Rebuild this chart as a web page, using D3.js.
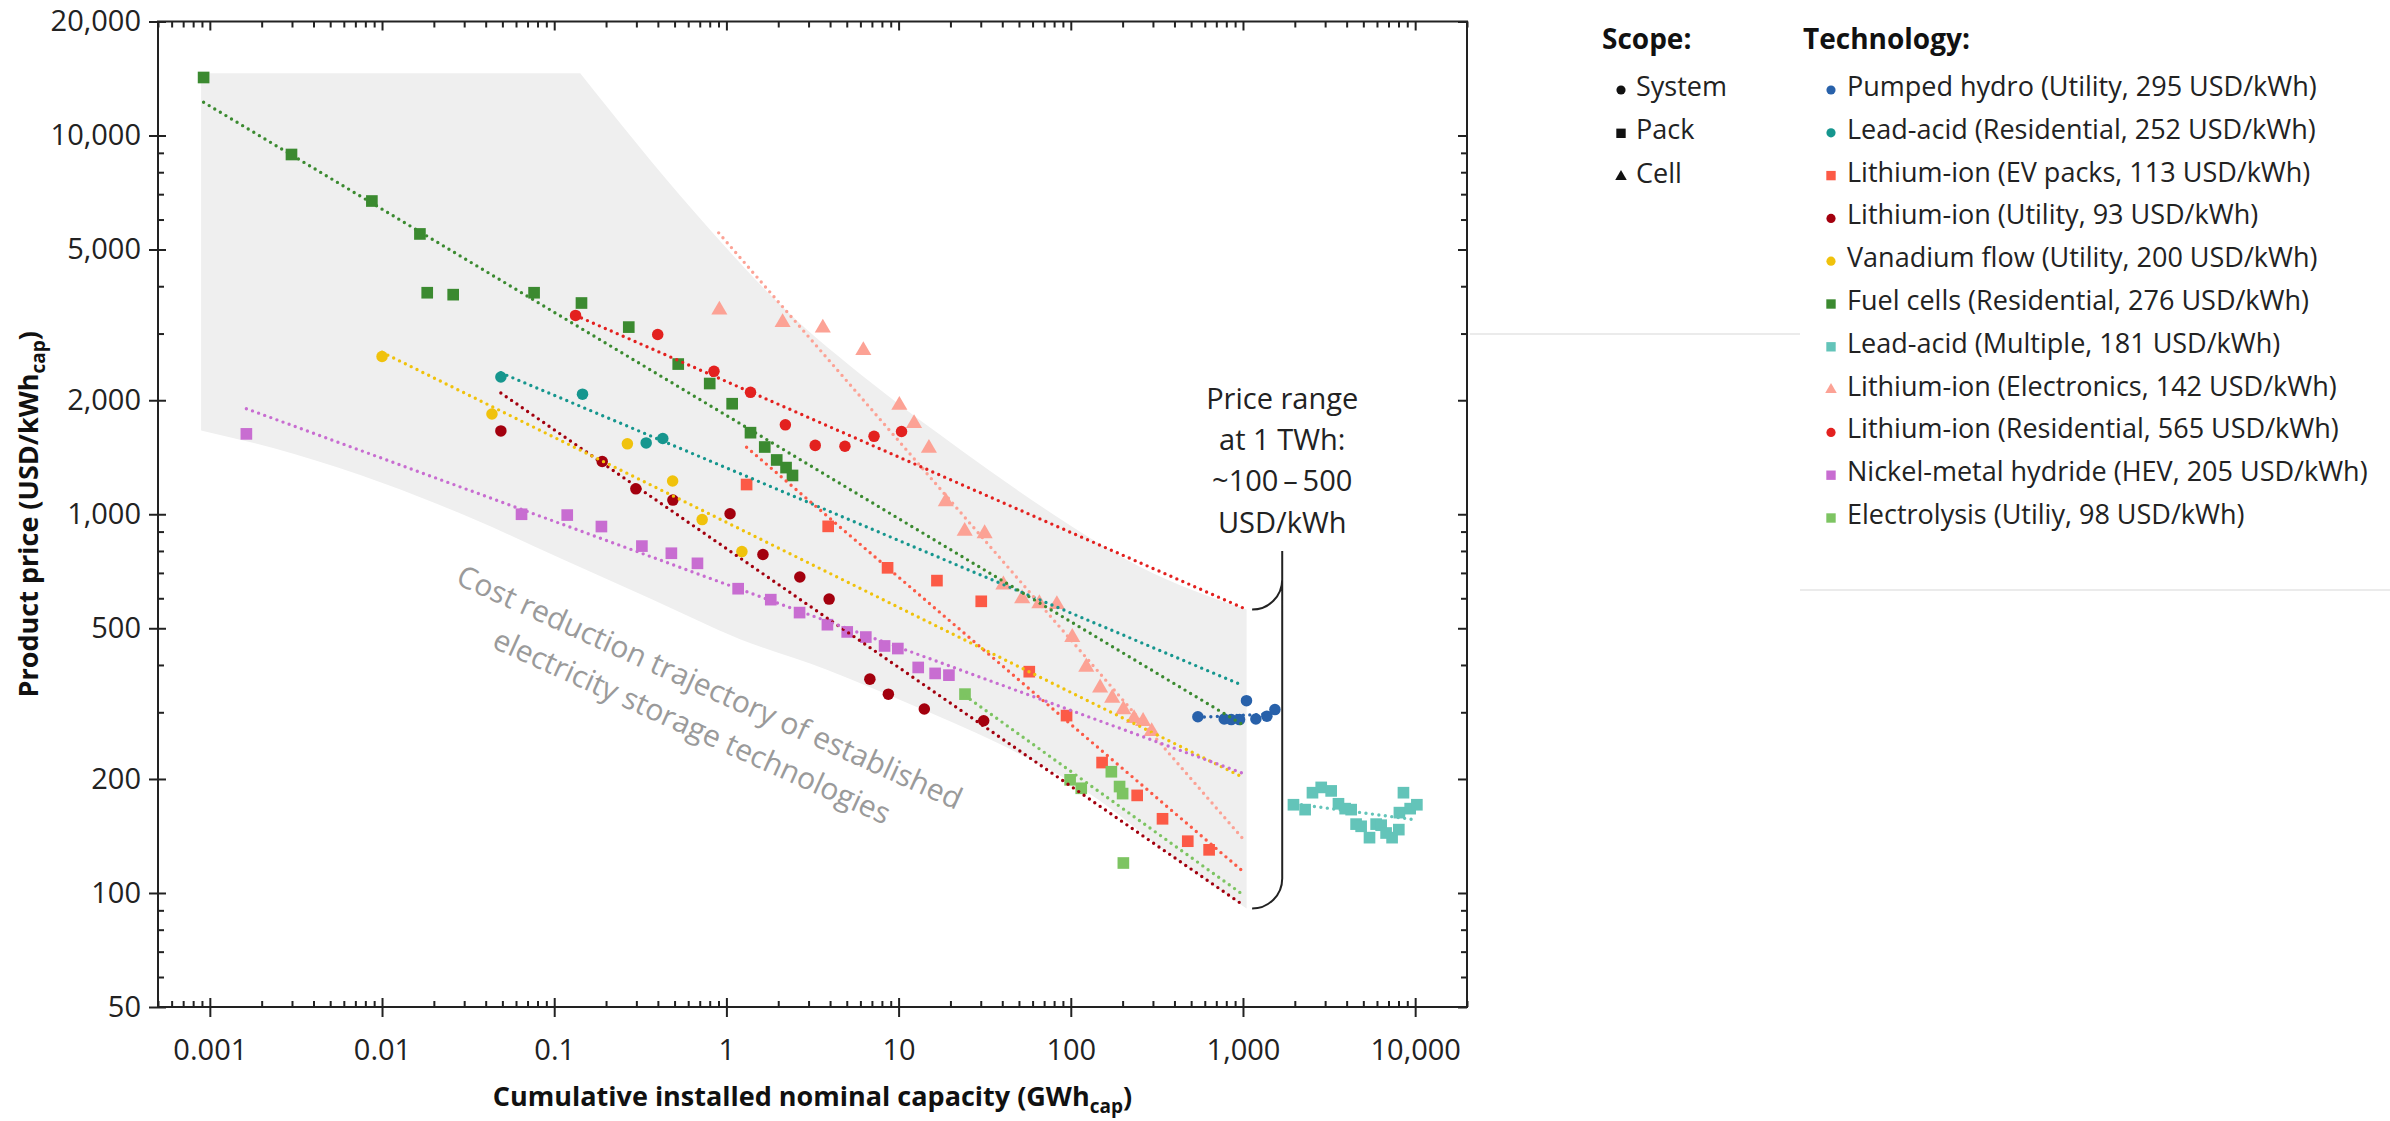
<!DOCTYPE html>
<html>
<head>
<meta charset="utf-8">
<script src="https://cdn.jsdelivr.net/npm/d3@7"></script>
<style>
body { margin: 0; background: #fff; }
svg { font-family: "Open Sans", Lato, sans-serif; }
</style>
</head>
<body>
<div id="chart"></div>
<script>

var width = 2390,
    height = 1121;

// tick labels
var xTickLabels = [0.001, 0.01, 0.1, 1, 10, 100, 1000, 10000];
var yTickLabels = [50, 100, 200, 500, 1000, 2000, 5000, 10000, 20000];

// legend
var scopeNames = ["System", "Pack", "Cell"];
var scopeShapes = ["circle", "square", "triangle"];

var techNames = [
    "Pumped hydro (Utility, 295 USD/kWh)",
    "Lead-acid (Residential, 252 USD/kWh)",
    "Lithium-ion (EV packs, 113 USD/kWh)",
    "Lithium-ion (Utility, 93 USD/kWh)",
    "Vanadium flow (Utility, 200 USD/kWh)",
    "Fuel cells (Residential, 276 USD/kWh)",
    "Lead-acid (Multiple, 181 USD/kWh)",
    "Lithium-ion (Electronics, 142 USD/kWh)",
    "Lithium-ion (Residential, 565 USD/kWh)",
    "Nickel-metal hydride (HEV, 205 USD/kWh)",
    "Electrolysis (Utiliy, 98 USD/kWh)"
];
var techShapes = ["circle", "circle", "square", "circle", "circle", "square", "square", "triangle", "circle", "square", "square"];
var techColors = ["#2861aa", "#16968e", "#fc5a46", "#a3000e", "#f0c20c", "#3b8a30", "#63c4b9", "#fca295", "#e3211f", "#c86dd1", "#7dc462"];

// [cumulative capacity GWh, price USD/kWh]
var pumpedHydro = [[547,292],[778,288],[855,287],[955,287],[1048,322],[1188,288],[1377,293],[1533,305]];
var pumpedHydroFit = [[547,291],[1450,297]];

var leadAcidRes = [[0.049,2304],[0.146,2075],[0.342,1543],[0.427,1585]];
var leadAcidResFit = [[0.049,2363],[1000,353]];

var liIonEv = [[1.31,1198],[3.90,929],[8.63,722],[16.7,668],[30.2,589],[57.4,384],[94.5,294],[152,221],[243,181],[341,157],[478,137],[636,130]];
var liIonEvFit = [[1.31,1503],[1000,114]];

var liIonUtility = [[0.049,1660],[0.19,1378],[0.298,1167],[0.489,1090],[1.05,1003],[1.63,783],[2.67,683],[3.95,597],[6.81,367],[8.72,335],[14.1,306],[31.2,285]];
var liIonUtilityFit = [[0.049,2090],[1000,93]];

var vanadium = [[0.0100,2610],[0.0435,1839],[0.266,1534],[0.487,1224],[0.723,968],[1.23,797]];
var vanadiumFit = [[0.0100,2677],[1000,202]];

var fuelCells = [[0.00092,14230],[0.00298,8910],[0.00873,6715],[0.0166,5497],[0.0183,3845],[0.0259,3800],[0.0764,3845],[0.144,3612],[0.271,3120],[0.525,2492],[0.80,2214],[1.08,1958],[1.38,1642],[1.67,1505],[1.96,1391],[2.22,1328],[2.42,1266]];
var fuelCellsFit = [[0.00092,12240],[1000,278]];

var leadAcidMulti = [[1964,171],[2296,166],[2533,184],[2847,190],[3252,186],[3586,172],[3921,167],[4248,166],[4540,152],[4855,150],[5430,140],[5935,152],[6345,151],[6780,144],[7345,140],[8035,147],[8100,163],[8550,184],[9355,167],[10230,171]];
var leadAcidMultiFit = [[2188,171],[10090,156]];

var liIonElectronics = [[0.91,3463],[2.12,3210],[3.63,3104],[6.24,2707],[10.1,1941],[12.3,1737],[15.0,1494],[18.8,1080],[24.2,902],[31.6,889],[40.6,651],[52.2,599],[65.7,581],[83.0,578],[102,473],[123,395],[148,348],[174,327],[202,305],[233,289],[263,284],[295,267]];
var liIonElectronicsFit = [[0.902,5533],[1000,139]];

var liIonResidential = [[0.133,3350],[0.399,2983],[0.847,2384],[1.38,2098],[2.20,1722],[3.28,1520],[4.88,1512],[7.2,1606],[10.4,1654]];
var liIonResidentialFit = [[0.133,3350],[1000,566]];

var nimh = [[0.00163,1630],[0.0646,1000],[0.119,995],[0.188,928],[0.323,824],[0.479,789],[0.679,742],[1.17,636],[1.81,595],[2.66,550],[3.86,511],[5.03,489],[6.45,474],[8.29,449],[9.9,442],[13.0,394],[16.3,380],[19.6,376]];
var nimhFit = [[0.00163,1900],[1000,207]];

var electrolysis = [[24.3,335],[99.1,199],[115,189],[172,209],[192,191],[200,183],[202,120]];
var electrolysisFit = [[24.3,332],[1000,99]];

// grey band: cost reduction trajectory
var bandTop = [[0.00089,14600],[0.1416,14600]];
var bandUpper = [[0.1416,14600],[0.652,6280],[2.14,3510],[7.06,2210],[23.4,1470],[76.9,1008],[253,726],[1050,560]];
var bandLower = [[0.00089,1664],[0.00309,1443],[0.01016,1208],[0.0337,973],[0.111,762],[0.366,597],[1.20,468],[3.80,389],[11.5,316],[38.2,248],[126,184],[415,122],[1050,91]];

// bracket at 1 TWh: hook x, stem x (GWh); stem top, upper hook, lower hook (USD/kWh)
var braceX = [1130, 1690];
var braceY = [800, 560, 91];
var priceRangeLines = ["Price range", "at 1 TWh:", "~100\u2009\u2013\u2009500", "USD/kWh"];
var trajectoryLines = ["Cost reduction trajectory of established", "electricity storage technologies"];

var techPoints = [pumpedHydro, leadAcidRes, liIonEv, liIonUtility, vanadium, fuelCells, leadAcidMulti, liIonElectronics, liIonResidential, nimh, electrolysis];
var techFits = [pumpedHydroFit, leadAcidResFit, liIonEvFit, liIonUtilityFit, vanadiumFit, fuelCellsFit, leadAcidMultiFit, liIonElectronicsFit, liIonResidentialFit, nimhFit, electrolysisFit];

var series = techNames.map(function(name, i) {
    return {name: name, shape: techShapes[i], color: techColors[i], points: techPoints[i], fit: techFits[i]};
});

var svg = d3.select("#chart").append("svg")
    .attr("width", width)
    .attr("height", height);

var x = d3.scaleLog().domain([0.0005, 20000]).range([158, 1467]);
var y = d3.scaleLog().domain([50, 20000]).range([1007, 21.5]);

var plotBottom = y.range()[0], plotTop = y.range()[1],
    plotLeft = x.range()[0], plotRight = x.range()[1];

var symbolTypes = {circle: d3.symbolCircle, square: d3.symbolSquare, triangle: d3.symbolTriangle};
var markerSize = {circle: 104, square: 136, triangle: 112};
var legendSize = {circle: 66, square: 88, triangle: 58};

// band
var curve = d3.line()
    .x(function(d) { return x(d[0]); })
    .y(function(d) { return y(d[1]); })
    .curve(d3.curveMonotoneX);
var straight = d3.line()
    .x(function(d) { return x(d[0]); })
    .y(function(d) { return y(d[1]); });

var bandPath = straight(bandTop) +
    curve(bandUpper).replace(/^M/, "L") +
    curve(bandLower.slice().reverse()).replace(/^M/, "L") + "Z";

svg.append("path")
    .attr("d", bandPath)
    .attr("fill", "#efefef");

// trajectory text
var traj = svg.append("g")
    .attr("transform", "translate(" + x(0.71) + "," + y(310) + ") rotate(24.3)");
traj.selectAll("text")
    .data(trajectoryLines)
    .enter().append("text")
    .attr("y", function(d, i) { return (i - 0.5) * 43; })
    .attr("dy", "0.35em")
    .attr("text-anchor", "middle")
    .attr("font-size", 30)
    .attr("fill", "#9a9a9a")
    .text(function(d) { return d; });

// axes
var isDecade = function(d) { return Math.abs(Math.log10(d) - Math.round(Math.log10(d))) < 1e-6; };
var isLabelled = function(d) {
    return yTickLabels.some(function(t) { return Math.abs(t - d) / t < 1e-6; });
};
var xMinor = x.ticks().filter(function(d) { return !isDecade(d); });
var yMinor = y.ticks().filter(function(d) { return !isLabelled(d); });

function styleAxis(g) {
    g.select(".domain").remove();
    g.attr("color", "#222")
        .attr("font-family", "'Open Sans', Lato, sans-serif")
        .attr("font-size", 29);
    g.selectAll("line").attr("stroke-width", 2);
    g.selectAll("text").attr("fill", "#222");
}

svg.append("g").attr("transform", "translate(0," + plotBottom + ")")
    .call(d3.axisBottom(x).tickValues(xTickLabels).tickSize(10).tickPadding(22).tickFormat(d3.format(",")))
    .call(styleAxis);
svg.append("g").attr("transform", "translate(0," + plotBottom + ")")
    .call(d3.axisTop(x).tickValues(xTickLabels).tickSize(9).tickFormat(""))
    .call(styleAxis);
svg.append("g").attr("transform", "translate(0," + plotBottom + ")")
    .call(d3.axisTop(x).tickValues(xMinor).tickSize(6).tickFormat(""))
    .call(styleAxis);
svg.append("g").attr("transform", "translate(0," + plotTop + ")")
    .call(d3.axisBottom(x).tickValues(xTickLabels).tickSize(9).tickFormat(""))
    .call(styleAxis);
svg.append("g").attr("transform", "translate(0," + plotTop + ")")
    .call(d3.axisBottom(x).tickValues(xMinor).tickSize(6).tickFormat(""))
    .call(styleAxis);

svg.append("g").attr("transform", "translate(" + plotLeft + ",0)")
    .call(d3.axisLeft(y).tickValues(yTickLabels).tickSize(9).tickPadding(8).tickFormat(d3.format(",")))
    .call(styleAxis);
svg.append("g").attr("transform", "translate(" + plotLeft + ",0)")
    .call(d3.axisRight(y).tickValues(yTickLabels).tickSize(8).tickFormat(""))
    .call(styleAxis);
svg.append("g").attr("transform", "translate(" + plotLeft + ",0)")
    .call(d3.axisRight(y).tickValues(yMinor).tickSize(6).tickFormat(""))
    .call(styleAxis);
svg.append("g").attr("transform", "translate(" + plotRight + ",0)")
    .call(d3.axisLeft(y).tickValues(yTickLabels).tickSize(9).tickFormat(""))
    .call(styleAxis);
svg.append("g").attr("transform", "translate(" + plotRight + ",0)")
    .call(d3.axisLeft(y).tickValues(yMinor).tickSize(6).tickFormat(""))
    .call(styleAxis);

svg.append("rect")
    .attr("x", plotLeft).attr("y", plotTop)
    .attr("width", plotRight - plotLeft).attr("height", plotBottom - plotTop)
    .attr("fill", "none")
    .attr("stroke", "#222")
    .attr("stroke-width", 2);

// axis titles
function titleWithSub(sel, main, sub) {
    sel.append("tspan").text(main);
    sel.append("tspan").attr("dy", 7).attr("font-size", 19).text(sub);
    sel.append("tspan").attr("dy", -7).text(")");
}

svg.append("text")
    .attr("x", (plotLeft + plotRight) / 2)
    .attr("y", 1106)
    .attr("text-anchor", "middle")
    .attr("font-size", 27)
    .attr("font-weight", 700)
    .attr("fill", "#111")
    .call(titleWithSub, "Cumulative installed nominal capacity (GWh", "cap");

svg.append("text")
    .attr("transform", "translate(38," + (plotTop + plotBottom) / 2 + ") rotate(-90)")
    .attr("text-anchor", "middle")
    .attr("font-size", 27)
    .attr("font-weight", 700)
    .attr("fill", "#111")
    .call(titleWithSub, "Product price (USD/kWh", "cap");

// points
var marker = d3.symbol();

series.forEach(function(s) {
    svg.append("g").selectAll("path")
        .data(s.points)
        .enter().append("path")
        .attr("transform", function(d) { return "translate(" + x(d[0]) + "," + y(d[1]) + ")"; })
        .attr("d", marker.type(symbolTypes[s.shape]).size(markerSize[s.shape]))
        .attr("fill", s.color);
});

// fitted trend lines (dotted)
series.forEach(function(s) {
    svg.append("path")
        .attr("d", straight(s.fit))
        .attr("fill", "none")
        .attr("stroke", s.color)
        .attr("stroke-width", 3.4)
        .attr("stroke-linecap", "round")
        .attr("stroke-dasharray", "0 6.5");
});

// bracket at 1 TWh
var hx = x(braceX[0]), sx = x(braceX[1]), r = sx - hx;
var yStem = y(braceY[0]), yU = y(braceY[1]), yL = y(braceY[2]);
svg.append("path")
    .attr("d", "M" + hx + "," + yU + " A" + r + "," + r + " 0 0 0 " + sx + "," + (yU - r) +
        " M" + sx + "," + yStem + " L" + sx + "," + (yL - r) +
        " A" + r + "," + r + " 0 0 1 " + hx + "," + yL)
    .attr("fill", "none")
    .attr("stroke", "#222")
    .attr("stroke-width", 2);

svg.append("g").selectAll("text")
    .data(priceRangeLines)
    .enter().append("text")
    .attr("x", sx)
    .attr("y", function(d, i) { return y(1900) + i * 41.3; })
    .attr("text-anchor", "middle")
    .attr("font-size", 29)
    .attr("fill", "#222")
    .text(function(d) { return d; });

// separators
svg.append("line").attr("x1", 1470).attr("x2", 1800).attr("y1", 334).attr("y2", 334)
    .attr("stroke", "#e4e4e4").attr("stroke-width", 1.5);
svg.append("line").attr("x1", 1800).attr("x2", 2390).attr("y1", 590).attr("y2", 590)
    .attr("stroke", "#e4e4e4").attr("stroke-width", 1.5);

// legend: scope
svg.append("text")
    .attr("x", 1602).attr("y", 49)
    .attr("font-size", 28).attr("font-weight", 700).attr("fill", "#111")
    .text("Scope:");

var scope = svg.append("g").selectAll("g")
    .data(scopeNames)
    .enter().append("g")
    .attr("transform", function(d, i) { return "translate(0," + (96 + i * 43.3) + ")"; });
scope.append("path")
    .attr("transform", "translate(1621,-6)")
    .attr("d", function(d, i) { return marker.type(symbolTypes[scopeShapes[i]]).size(legendSize[scopeShapes[i]])(); })
    .attr("fill", "#111");
scope.append("text")
    .attr("x", 1636)
    .attr("font-size", 27).attr("fill", "#222")
    .text(function(d) { return d; });

// legend: technology
svg.append("text")
    .attr("x", 1803).attr("y", 49)
    .attr("font-size", 28).attr("font-weight", 700).attr("fill", "#111")
    .text("Technology:");

var tech = svg.append("g").selectAll("g")
    .data(series)
    .enter().append("g")
    .attr("transform", function(d, i) { return "translate(0," + (96 + i * 42.8) + ")"; });
tech.append("path")
    .attr("transform", "translate(1831,-6)")
    .attr("d", function(d) { return marker.type(symbolTypes[d.shape]).size(legendSize[d.shape])(); })
    .attr("fill", function(d) { return d.color; });
tech.append("text")
    .attr("x", 1847)
    .attr("font-size", 27).attr("fill", "#222")
    .text(function(d) { return d.name; });

</script>
</body>
</html>
